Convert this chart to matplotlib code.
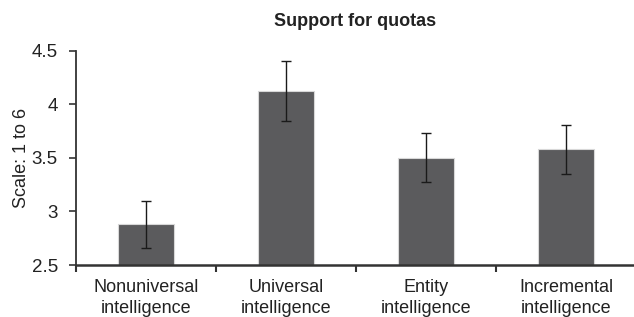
import matplotlib
import numpy as np

matplotlib.use("Agg")
import matplotlib.pyplot as plt

plt.rcParams["font.family"] = ["Liberation Sans", "DejaVu Sans"]

CATEGORIES = ["Nonuniversal\nintelligence", "Universal\nintelligence",
              "Entity\nintelligence", "Incremental\nintelligence"]
MEANS = [2.88, 4.12, 3.50, 3.58]
ERRORS = [0.22, 0.28, 0.23, 0.23]
Y_TICKS = [2.5, 3, 3.5, 4, 4.5]
Y_TICK_LABELS = ["2.5", "3", "3.5", "4", "4.5"]

W, H = 634, 317
fig = plt.figure(figsize=(W / 100, H / 100), dpi=100)
ax = fig.add_axes([76 / W, 52 / H, 560 / W, 214.3 / H])

x = np.arange(len(CATEGORIES))
ax.bar(x, [m - 2.5 for m in MEANS], 0.4, bottom=2.5, color="#5b5b5d",
       edgecolor="#d8d8d8", linewidth=0.8, zorder=2)
ax.errorbar(x, MEANS, yerr=ERRORS, fmt="none", ecolor="#1a1a1a",
            elinewidth=1.0, capsize=3.5, capthick=1.0, zorder=3)

ax.set_xlim(-0.5, 3.5)
ax.set_ylim(2.5, 4.5)
ax.set_yticks(Y_TICKS)
ax.set_yticklabels(Y_TICK_LABELS)
ax.set_xticks(x)
ax.set_xticklabels(CATEGORIES, linespacing=1.35)
ax.set_xticks(np.arange(-0.5, 3.6, 1.0), minor=True)
ax.tick_params(axis="x", which="major", length=0, pad=10, labelsize=13, colors="#222222")
ax.tick_params(axis="x", which="minor", length=5, width=1.5, direction="out", color="#333333")
ax.tick_params(axis="y", length=5, width=1.2, pad=8, labelsize=13.5, colors="#222222")
ax.tick_params(axis="y", color="#333333")

for side in ("top", "right"):
    ax.spines[side].set_visible(False)
ax.spines["left"].set_color("#333333")
ax.spines["left"].set_linewidth(1.3)
ax.spines["bottom"].set_color("#333333")
ax.spines["bottom"].set_linewidth(1.8)
ax.spines["bottom"].set_zorder(4)

ax.set_ylabel("Scale: 1 to 6", fontsize=13, color="#222222")
ax.yaxis.set_label_coords(-0.082, 0.5)

fig.text(355 / W, 1 - 26 / H, "Support for quotas", ha="center", va="baseline",
         fontsize=13, fontweight="bold", color="#222222")

fig.savefig("out.png", dpi=100)
